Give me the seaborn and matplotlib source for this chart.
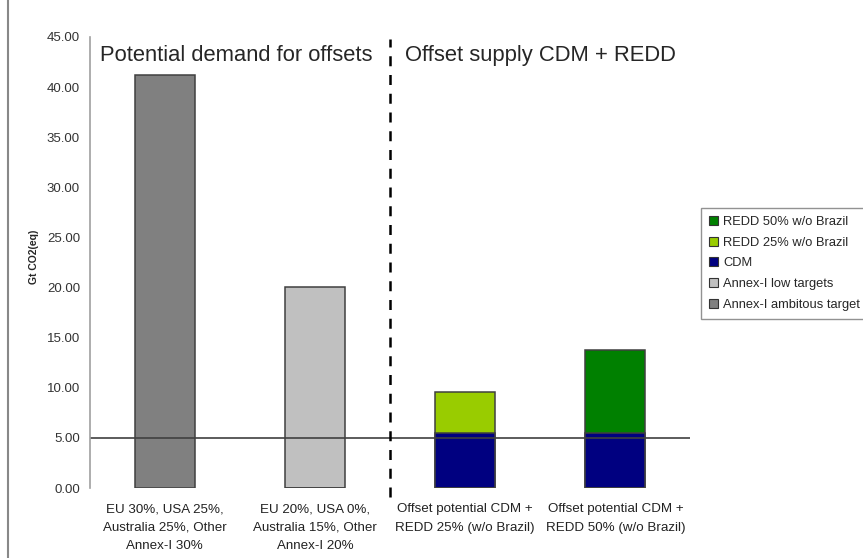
import matplotlib
matplotlib.use("Agg")
import matplotlib.pyplot as plt
import pandas as pd
import seaborn as sns
from matplotlib.lines import Line2D
from matplotlib.patches import Patch

categories = [
    "EU 30%, USA 25%,\nAustralia 25%, Other\nAnnex-I 30%",
    "EU 20%, USA 0%,\nAustralia 15%, Other\nAnnex-I 20%",
    "Offset potential CDM +\nREDD 25% (w/o Brazil)",
    "Offset potential CDM +\nREDD 50% (w/o Brazil)",
]
ambitious = [41.2, 0, 0, 0]
low = [0, 20.1, 0, 0]
cdm = [0, 0, 5.5, 5.5]
redd25 = [0, 0, 4.1, 0]
redd50 = [0, 0, 0, 8.3]

series_names = ["Annex-I ambitous target", "Annex-I low targets", "CDM",
                "REDD 25% w/o Brazil", "REDD 50% w/o Brazil"]
series_values = [ambitious, low, cdm, redd25, redd50]
colors = {
    "Annex-I ambitous target": "#808080",
    "Annex-I low targets": "#c0c0c0",
    "CDM": "#000080",
    "REDD 25% w/o Brazil": "#99cc00",
    "REDD 50% w/o Brazil": "#008000",
}

# long form with cumulative tops for stacking
rows = []
running = [0.0] * len(categories)
for name, vals in zip(series_names, series_values):
    for i, v in enumerate(vals):
        running[i] += v
        rows.append({"category": categories[i], "series": name,
                     "value": v, "top": running[i] if v > 0 else 0})
df = pd.DataFrame(rows)

sns.set_style("white")
plt.rcParams["font.family"] = ["Liberation Sans", "DejaVu Sans"]

fig = plt.figure(figsize=(8.63, 5.58), dpi=100)
ax = fig.add_axes([0.104, 0.1254, 0.696, 0.8083])

# draw top layers first so lower layers cover them
for name in reversed(series_names):
    sub = df[df["series"] == name]
    sns.barplot(data=sub, x="category", y="top", order=categories, color=colors[name],
                width=0.4, edgecolor="#404040", linewidth=1.1, saturation=1,
                errorbar=None, ax=ax)

ax.axhline(5, color="#404040", lw=1.2, zorder=1)
ax.axvline(1.5, ymin=-0.02, ymax=0.995, color="black", lw=1.8, ls=(0, (4, 3.5)),
           zorder=3, clip_on=False)

ax.set_ylim(0, 45)
ax.set_xlim(-0.5, 3.5)
ax.set_yticks(range(0, 50, 5))
ax.set_yticklabels([f"{v:.2f}" for v in range(0, 50, 5)], fontsize=9.5, color="#333333")
ax.set_xticks(range(len(categories)))
ax.set_xticklabels(categories, fontsize=9.6, color="#222222", linespacing=1.7)
ax.tick_params(axis="x", length=0, pad=11)
ax.tick_params(axis="y", length=0, pad=7)
ax.set_xticks([-0.5, 0.5, 1.5, 2.5, 3.5], minor=True)
ax.tick_params(axis="x", which="minor", length=3, color="#aaaaaa", direction="out")
ax.set_xlabel("")
ax.set_ylabel("Gt CO2(eq)", fontsize=7.5, fontweight="bold")
ax.yaxis.set_label_coords(-51 / 600, (488 - 257) / 451)

for side in ["top", "right", "bottom"]:
    ax.spines[side].set_visible(False)
ax.spines["left"].set_color("#a0a0a0")
ax.spines["left"].set_linewidth(1.2)

ax.text(-0.43, 43.2, "Potential demand for offsets", fontsize=15.8, ha="left", va="center")
ax.text(1.6, 43.2, "Offset supply CDM + REDD", fontsize=15.8, ha="left", va="center")

handles = [Patch(facecolor=colors[n], edgecolor="#333333", linewidth=0.8, label=n)
           for n in reversed(series_names)]
fig.legend(handles=handles, loc="upper left", bbox_to_anchor=(701 / 863, 1 - 208 / 558),
           fontsize=9.3, frameon=True, fancybox=False, edgecolor="#777777",
           handlelength=0.7, handleheight=0.7, handletextpad=0.4,
           labelspacing=0.68, borderpad=0.6, borderaxespad=0)

fig.add_artist(Line2D([8 / 863, 8 / 863], [0, 1], color="#888888", lw=1.5,
                      transform=fig.transFigure))

fig.savefig("out.png", dpi=100)
